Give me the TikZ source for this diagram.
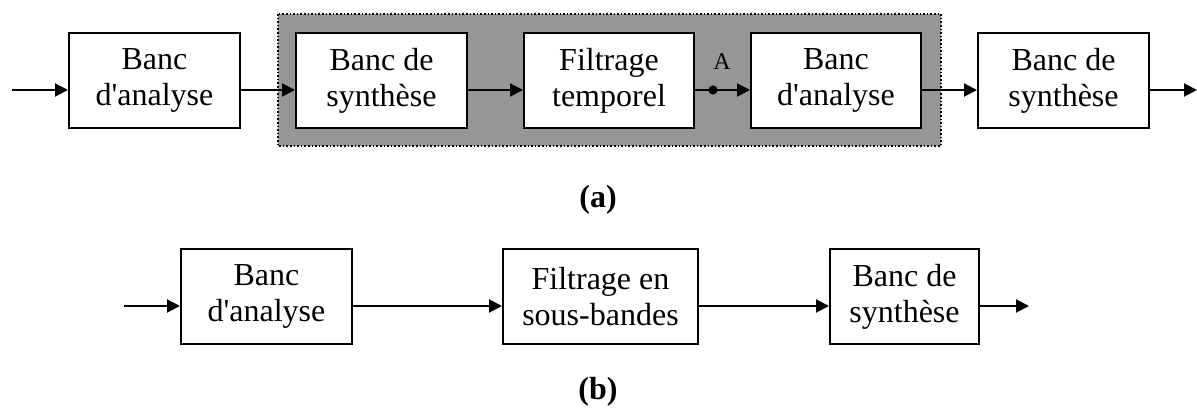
\documentclass[tikz,border=0pt]{standalone}
\usepackage{fontspec}
\setmainfont{Liberation Serif}
\usetikzlibrary{arrows.meta}
\definecolor{panelgray}{gray}{0.59}
\newcommand{\apos}{\textquotesingle}
\begin{document}
\begin{tikzpicture}[x=0.5pt,y=-0.5pt,
    bloc/.style={draw,line width=1pt,fill=white,minimum height=47.5pt,align=center,
      inner sep=0pt,font=\fontsize{16}{18}\selectfont,
      execute at begin node={\rule{0pt}{16pt}}},
    arr/.style={line width=1pt,-{Triangle[length=6.5pt,width=6.5pt]}},
    lab/.style={font=\fontsize{16}{18}\selectfont\bfseries}]
    \useasboundingbox (0,0) rectangle (1197,410);
    % (a)
    \draw[densely dotted,line width=0.8pt,fill=panelgray] (278,14) rectangle (941,146);
    \node[bloc,minimum width=85.5pt] (ana1) at (154.5,80.5) {Banc\\d\apos analyse};
    \node[bloc,minimum width=85.5pt] (syn1) at (381.5,80.5) {Banc de\\synthèse};
    \node[bloc,minimum width=85pt] (filt) at (609,80.5) {Filtrage\\temporel};
    \node[bloc,minimum width=85pt] (ana2) at (836,80.5) {Banc\\d\apos analyse};
    \node[bloc,minimum width=85.5pt] (syn2) at (1063.5,80.5) {Banc de\\synthèse};
    \coordinate (in1) at (12,90);
    \coordinate (out1) at (1197,90);
    \draw[arr] (in1) -- (ana1.west |- in1);
    \draw[arr] (ana1.east |- in1) -- (syn1.west |- in1);
    \draw[arr] (syn1.east |- in1) -- (filt.west |- in1);
    \draw[arr] (filt.east |- in1) -- (ana2.west |- in1);
    \draw[arr] (ana2.east |- in1) -- (syn2.west |- in1);
    \draw[arr] (syn2.east |- in1) -- (out1);
    \fill (713,90) coordinate (ptA) circle (2.3pt);
    \node[font=\fontsize{12}{14}\selectfont] (labA) at (722,62) {A};
    \node[lab] (capa) at (598,200) {(a)};
    % (b)
    \node[bloc,minimum width=85.5pt] (ana3) at (266.5,296.5) {Banc\\d\apos analyse};
    \node[bloc,minimum width=97.5pt] (sb) at (600.5,296.5) {Filtrage en\\sous-bandes};
    \node[bloc,minimum width=74.5pt] (syn3) at (904.5,296.5) {Banc de\\synthèse};
    \coordinate (in2) at (124,306);
    \coordinate (out2) at (1029,306);
    \draw[arr] (in2) -- (ana3.west |- in2);
    \draw[arr] (ana3.east |- in2) -- (sb.west |- in2);
    \draw[arr] (sb.east |- in2) -- (syn3.west |- in2);
    \draw[arr] (syn3.east |- in2) -- (out2);
    \node[lab] (capb) at (598,392) {(b)};
\end{tikzpicture}
\end{document}
